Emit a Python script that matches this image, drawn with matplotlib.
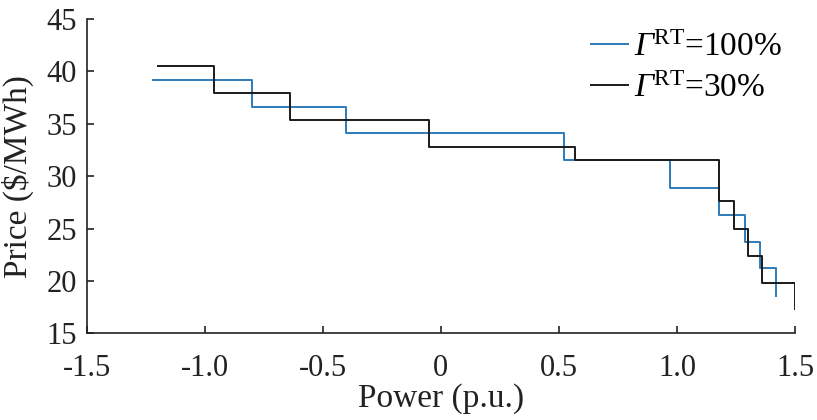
import matplotlib
matplotlib.use("Agg")
import matplotlib.pyplot as plt

plt.rcParams['font.family'] = ['Liberation Serif', 'DejaVu Serif']
plt.rcParams['mathtext.fontset'] = 'custom'
plt.rcParams['mathtext.rm'] = 'Liberation Serif'
plt.rcParams['mathtext.it'] = 'Liberation Serif:italic'
plt.rcParams['mathtext.sf'] = 'Liberation Serif:italic'
plt.rcParams['axes.unicode_minus'] = False

# Data (step curves, post-style)
x_100 = [-1.22, -0.80, -0.40, 0.52, 0.97, 1.18, 1.29, 1.35, 1.42, 1.42]
p_100 = [39.2, 36.6, 34.1, 31.5, 28.9, 26.3, 23.7, 21.2, 18.6, 18.6]
x_30 = [-1.20, -0.96, -0.64, -0.05, 0.57, 1.18, 1.24, 1.30, 1.36, 1.50, 1.50]
p_30 = [40.5, 37.9, 35.4, 32.8, 31.5, 27.6, 25.0, 22.4, 19.8, 17.3, 17.3]

xticks = [-1.5, -1.0, -0.5, 0, 0.5, 1.0, 1.5]
xticklabels = ['-1.5', '-1.0', '-0.5', '0', '0.5', '1.0', '1.5']
yticks = [15, 20, 25, 30, 35, 40, 45]
labels = [r'$\mathsf{\Gamma}^{\mathrm{RT}}$=100%', r'$\mathsf{\Gamma}^{\mathrm{RT}}$=30%']

TXT = '#222222'
fig = plt.figure(figsize=(8.17, 4.20), dpi=100)
ax = fig.add_axes([0.1061, 0.2064, 0.867, 0.7484])

ax.step(x_100, p_100, where='post', color='#2c7bba', lw=1.4, label=labels[0])
ax.step(x_30, p_30, where='post', color='#1a1a1a', lw=1.4, label=labels[1])

ax.set_xlim(-1.5, 1.5)
ax.set_ylim(15, 45)
ax.set_xticks(xticks)
ax.set_xticklabels(xticklabels)
ax.set_yticks(yticks)
for s in ['top', 'right']:
    ax.spines[s].set_visible(False)
for s in ['left', 'bottom']:
    ax.spines[s].set_linewidth(1.2)
    ax.spines[s].set_color(TXT)
ax.tick_params(direction='in', length=5, width=1.2, labelsize=22, colors=TXT)
ax.tick_params(axis='x', pad=15)
ax.tick_params(axis='y', pad=7)

ax.set_xlabel('Power (p.u.)', fontsize=24, color=TXT)
ax.set_ylabel(r'Price (\$/MWh)', fontsize=24, color=TXT)
ax.xaxis.set_label_coords(0.5, -0.160)
ax.yaxis.set_label_coords(-0.0741, 0.5)

leg = ax.legend(loc='upper left', frameon=False, fontsize=24, handlelength=1.11,
                handletextpad=0.18, labelspacing=0.31, borderaxespad=0.0, borderpad=0.0,
                bbox_to_anchor=(590.5 / 817, 1 - 32 / 420), bbox_transform=fig.transFigure)

fig.savefig('out.png', dpi=100)
